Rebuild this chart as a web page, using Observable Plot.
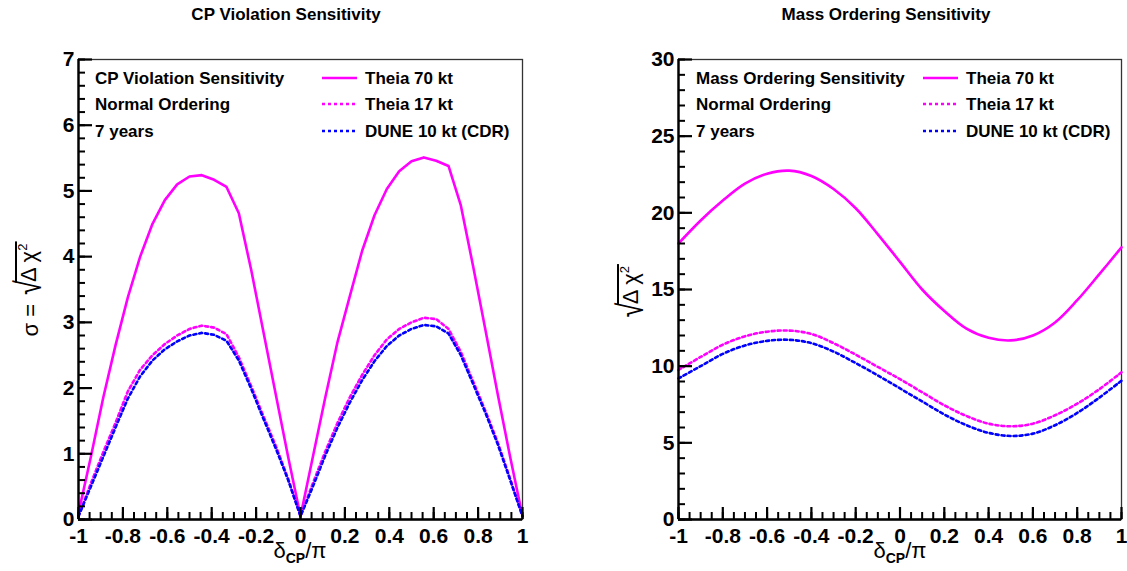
<!DOCTYPE html>
<html>
<head>
<meta charset="utf-8">
<script src="https://cdn.jsdelivr.net/npm/d3@7"></script>
<script src="https://cdn.jsdelivr.net/npm/@observablehq/plot@0.6"></script>
<style>
  html, body { margin: 0; padding: 0; background: #fff; }
  #root { position: relative; width: 1127px; height: 571px; overflow: hidden; background: #fff;
          font-family: "Liberation Sans", Arial, Helvetica, sans-serif; color: #000; }
  .abs { position: absolute; white-space: nowrap; }
  .title { font-size: 17px; line-height: 17px; font-weight: bold; transform: translateX(-50%); }
  .leg { font-size: 17px; line-height: 17px; font-weight: bold; }
  .xlab { font-size: 22px; line-height: 22px; transform: translateX(-50%); }
  .xlab sub { font-size: 14px; font-weight: bold; vertical-align: -5px; }
  .ylab { font-size: 22px; line-height: 30px; transform: translate(-50%, -50%) rotate(-90deg); }
  .ylab .rad { font-size: 36px; line-height: 30px; display: inline-block; vertical-align: -3px; transform: scaleX(0.75); margin-right: -4px; }
  .ylab .ovb { display: inline-block; border-top: 2px solid #000; padding-top: 1px; line-height: 22px; vertical-align: 2px; padding-right: 2px; }
  .ylab sup { font-size: 13px; vertical-align: 9px; line-height: 0; }
</style>
</head>
<body>
<div id="root"></div>
<script>
// ---------- data ----------
// CP violation panel: delta_CP in degrees (10 degree steps)
const cpvDeltaDeg = [-180,-170,-160,-150,-140,-130,-120,-110,-100,-90,-80,-70,-60,-50,-40,-30,-20,-10,0,
                     10,20,30,40,50,60,70,80,90,100,110,120,130,140,150,160,170,180];
const cpvTheia70 = [0.1,0.95,1.85,2.65,3.38,4.0,4.5,4.86,5.10,5.22,5.24,5.17,5.06,4.66,3.8,2.85,1.9,0.95,0.05,
                    0.95,1.85,2.7,3.4,4.09,4.63,5.03,5.30,5.45,5.51,5.46,5.38,4.78,3.85,2.88,1.9,0.95,0.05];
const cpvTheia17 = [0.05,0.55,1.02,1.47,1.95,2.28,2.5,2.67,2.8,2.9,2.95,2.92,2.82,2.47,2.03,1.57,1.12,0.62,0.05,
                    0.55,1.03,1.47,1.86,2.2,2.5,2.74,2.9,3.0,3.07,3.05,2.9,2.55,2.1,1.65,1.17,0.62,0.05];
const cpvDune10  = [0.05,0.5,0.95,1.4,1.84,2.18,2.42,2.59,2.71,2.8,2.84,2.81,2.72,2.42,1.99,1.53,1.08,0.6,0.05,
                    0.5,0.97,1.4,1.78,2.12,2.41,2.64,2.8,2.9,2.96,2.94,2.83,2.5,2.06,1.62,1.14,0.6,0.05];

// Mass ordering panel: delta_CP / pi
const moDelta   = [-1,-0.9,-0.8,-0.7,-0.6,-0.5,-0.4,-0.3,-0.2,-0.1,0,0.1,0.2,0.3,0.4,0.5,0.6,0.7,0.8,0.9,1];
const moTheia70 = [18.0,19.5,20.8,21.9,22.55,22.75,22.4,21.55,20.3,18.6,16.8,15.0,13.6,12.45,11.85,11.68,12.0,12.85,14.3,16.0,17.75];
const moTheia17 = [9.75,10.6,11.4,11.95,12.25,12.32,12.1,11.5,10.75,9.95,9.15,8.3,7.45,6.75,6.25,6.08,6.25,6.8,7.55,8.5,9.6];
const moDune10  = [9.2,10.0,10.8,11.35,11.65,11.72,11.5,10.95,10.2,9.4,8.55,7.7,6.85,6.15,5.65,5.45,5.6,6.15,6.95,7.95,9.05];

const seriesNames  = ["Theia 70 kt", "Theia 17 kt", "DUNE 10 kt (CDR)"];
const seriesColors = ["#ff00ff", "#ff00ff", "#0000ff"];
const seriesDash   = [null, "3,3", "3,3"];

const xTicks    = [-1,-0.8,-0.6,-0.4,-0.2,0,0.2,0.4,0.6,0.8,1];
const cpvYTicks = [0,1,2,3,4,5,6,7];
const moYTicks  = [0,5,10,15,20,25,30];

const panelTitles = ["CP Violation Sensitivity", "Mass Ordering Sensitivity"];
const infoLines = [["CP Violation Sensitivity","Normal Ordering","7 years"],
                   ["Mass Ordering Sensitivity","Normal Ordering","7 years"]];

// ---------- drawing ----------
const root = document.getElementById("root");
const SVG_TOP = 30, SVG_H = 541, MT = 29, MB = 52;
const FH = SVG_H - MT - MB;
const fmt = d => String(+(+d).toFixed(2));

function panel({xs, ys, yDomain, yTicks, yMinorStep, width, marginLeft, marginRight, curve}) {
  const fw = width - marginLeft - marginRight;
  const rows = [];
  ys.forEach((arr, k) => arr.forEach((v, i) => rows.push({x: xs[i], y: v, s: k})));
  const xMinor = d3.range(0, 41).map(i => +(-1 + i * 0.05).toFixed(2));
  const nMinor = Math.round((yDomain[1] - yDomain[0]) / yMinorStep);
  const yMinor = d3.range(0, nMinor + 1).map(i => +(yDomain[0] + i * yMinorStep).toFixed(3));
  const lineMarks = [0, 1, 2].map(k => Plot.line(rows.filter(r => r.s === k), {
    x: "x", y: "y", stroke: seriesColors[k], strokeWidth: 2.6,
    strokeDasharray: seriesDash[k] || undefined, curve
  }));
  return Plot.plot({
    width, height: SVG_H, marginLeft, marginRight, marginTop: MT, marginBottom: MB,
    x: {domain: [xTicks[0], xTicks[xTicks.length - 1]]},
    y: {domain: yDomain},
    style: {fontFamily: "'Liberation Sans', Arial, Helvetica, sans-serif", fontSize: "21px",
            fontWeight: "bold", color: "#000", background: "transparent", overflow: "visible"},
    marks: [
      Plot.frame({stroke: "#333", strokeWidth: 1.3}),
      ...lineMarks,
      Plot.ruleY(yMinor, {insetRight: fw - 7, stroke: "#000", strokeWidth: 2}),
      Plot.ruleY(yTicks, {insetRight: fw - 14, stroke: "#000", strokeWidth: 2.2}),
      Plot.ruleX(xMinor, {insetTop: FH - 7, stroke: "#000", strokeWidth: 2}),
      Plot.ruleX(xTicks, {insetTop: FH - 12, stroke: "#000", strokeWidth: 2.2}),
      Plot.ruleX([xTicks[0]], {stroke: "#000", strokeWidth: 2.4}),
      Plot.ruleY([yDomain[0]], {stroke: "#000", strokeWidth: 2.4}),
      Plot.axisX(xTicks, {tickSize: 0, tickPadding: 9, tickFormat: fmt, label: null,
                          fontSize: 21, fontWeight: "bold"}),
      Plot.axisY(yTicks, {tickSize: 0, tickPadding: 4, tickFormat: fmt, label: null,
                          fontSize: 21, fontWeight: "bold"})
    ]
  });
}

function place(el, left, top) {
  el.style.position = "absolute";
  el.style.left = left + "px";
  el.style.top = top + "px";
  root.appendChild(el);
}

const left = panel({
  xs: cpvDeltaDeg.map(d => d / 180), ys: [cpvTheia70, cpvTheia17, cpvDune10],
  yDomain: [cpvYTicks[0], cpvYTicks[cpvYTicks.length - 1]], yTicks: cpvYTicks, yMinorStep: 0.2,
  width: 563, marginLeft: 78, marginRight: 41, curve: "linear"
});
place(left, 0, SVG_TOP);

const right = panel({
  xs: moDelta, ys: [moTheia70, moTheia17, moDune10],
  yDomain: [moYTicks[0], moYTicks[moYTicks.length - 1]], yTicks: moYTicks, yMinorStep: 1,
  width: 564, marginLeft: 115, marginRight: 6, curve: "catmull-rom"
});
place(right, 563, SVG_TOP);

function html(cls, inner) {
  const d = document.createElement("div");
  d.className = "abs " + cls;
  d.innerHTML = inner;
  return d;
}

// titles
place(html("title", panelTitles[0]), 286, 6);
place(html("title", panelTitles[1]), 886, 6);

// x axis labels
place(html("xlab", "&delta;<sub>CP</sub>/&pi;"), 300, 540);
place(html("xlab", "&delta;<sub>CP</sub>/&pi;"), 900, 540);

// y axis labels
const rootLabel = "<span class='rad'>&radic;</span><span class='ovb'>&Delta; &chi;<sup>2</sup></span>";
place(html("ylab", "&sigma; = " + rootLabel), 30, 289);
place(html("ylab", rootLabel), 632, 292);

// legends
const rowsY = [78, 104, 131];
function legend(textX, lineX1, lineX2, labelX, info) {
  info.forEach((t, i) => place(html("leg", t), textX, rowsY[i] - 8.5));
  seriesNames.forEach((name, k) => {
    const ns = "http://www.w3.org/2000/svg";
    const s = document.createElementNS(ns, "svg");
    s.setAttribute("width", lineX2 - lineX1);
    s.setAttribute("height", 6);
    const ln = document.createElementNS(ns, "line");
    ln.setAttribute("x1", 0); ln.setAttribute("x2", lineX2 - lineX1);
    ln.setAttribute("y1", 3); ln.setAttribute("y2", 3);
    ln.setAttribute("stroke", seriesColors[k]);
    ln.setAttribute("stroke-width", 2.6);
    if (seriesDash[k]) ln.setAttribute("stroke-dasharray", seriesDash[k]);
    s.appendChild(ln);
    place(s, lineX1, rowsY[k] - 3);
    place(html("leg", name), labelX, rowsY[k] - 8.5);
  });
}
legend(95, 322, 357, 365, infoLines[0]);
legend(696, 923, 958, 966, infoLines[1]);
</script>
</body>
</html>
